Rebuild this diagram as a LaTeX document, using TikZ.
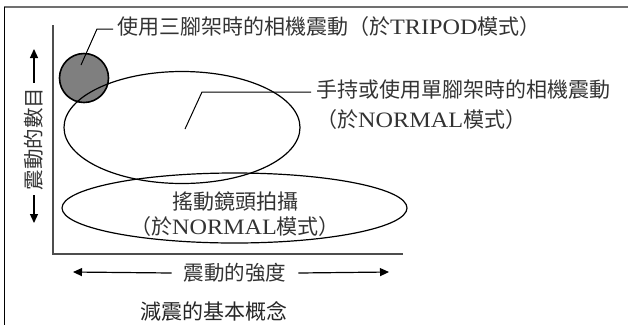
\documentclass[tikz,border=0pt]{standalone}
\usepackage{fontspec}
\setmainfont{Liberation Serif}[FakeStretch=1.1]
\newfontfamily\zhfont{Noto Sans CJK TC}
\usepackage{tikz}
\usetikzlibrary{arrows.meta, positioning, calc, shapes.geometric}
\definecolor{shgray}{HTML}{7F7F7F}
\definecolor{axgray}{HTML}{4D4D4D}
\definecolor{framegray}{HTML}{707070}
\definecolor{txtgray}{HTML}{333333}
\newcommand{\zh}[1]{{\zhfont\fontsize{21}{30}\selectfont #1}}

\begin{document}
\begin{tikzpicture}[x=1pt, y=-1pt,
  lbl/.style={font=\fontsize{22}{30}\selectfont, text=txtgray, inner sep=0pt},
  axlbl/.style={font=\zhfont\fontsize{20.5}{24}\selectfont, text=txtgray, inner sep=0pt},
  zone/.style={ellipse, draw=black, line width=1.2pt, inner sep=0pt},
  leader/.style={black, line width=1pt},
  axarrow/.style={black, line width=1.2pt, -{Triangle[length=9pt, width=8pt]}}]
\useasboundingbox (0,0) rectangle (628,325);
\draw[framegray, line width=1.6pt] (628,7) -- (4,7);
\draw[black, line width=0.8pt] (4,7) -- (4,325);
\draw[axgray, line width=1.6pt] (53,25) -- (53,254) -- (403,254);
% shake zones
\node[circle, fill=shgray, draw=black, line width=1.6pt, minimum size=49pt, inner sep=0pt]
  (tripod) at (84,78) {};
\node[zone, minimum width=236pt, minimum height=112pt] (hand) at (182,127.5) {};
\node[zone, minimum width=345pt, minimum height=70pt] (pan) at (234.5,208) {};
\node[lbl, align=center] (panlbl) at (235,214)
  {\zh{搖動鏡頭拍攝}\\[-5pt]\zh{（於}NORMAL\zh{模式）}};
% leaders
\node[lbl, anchor=west] (tripodlbl) at (117,27)
  {\zh{使用三腳架時的相機震動（於}TRIPOD\zh{模式）}};
\node[lbl, anchor=west, align=left] (handlbl) at (316,105)
  {\zh{手持或使用單腳架時的相機震動}\\\zh{（於}NORMAL\zh{模式）}};
\coordinate (tripodpt) at (81,65);
\coordinate (tripodknee) at (97,29);
\coordinate (handpt) at (185,129);
\coordinate (handknee) at (202,92);
\draw[leader, shorten >=4pt] (tripodpt) -- (tripodknee) -- (tripodlbl.west |- tripodknee);
\draw[leader, shorten >=5pt] (handpt) -- (handknee) -- (handlbl.west |- handknee);
% axes labels
\node[axlbl, rotate=90, inner xsep=5pt] (ylbl) at (34,139) {震動的數目};
\coordinate (ytop) at (34,49);
\coordinate (ybot) at (34,223);
\draw[axarrow] (ylbl.east) -- (ytop);
\draw[axarrow] (ylbl.west) -- (ybot);
\node[axlbl, inner xsep=12pt] (xlbl) at (235,273) {震動的強度};
\coordinate (xleft) at (73,272);
\coordinate (xright) at (389,272);
\draw[axarrow] (xlbl.west) -- (xleft);
\draw[axarrow] (xlbl.east) -- (xright);
\node[axlbl, font=\zhfont\fontsize{21}{24}\selectfont, text=black!85] (caption) at (213.5,311) {減震的基本概念};
\end{tikzpicture}
\end{document}
